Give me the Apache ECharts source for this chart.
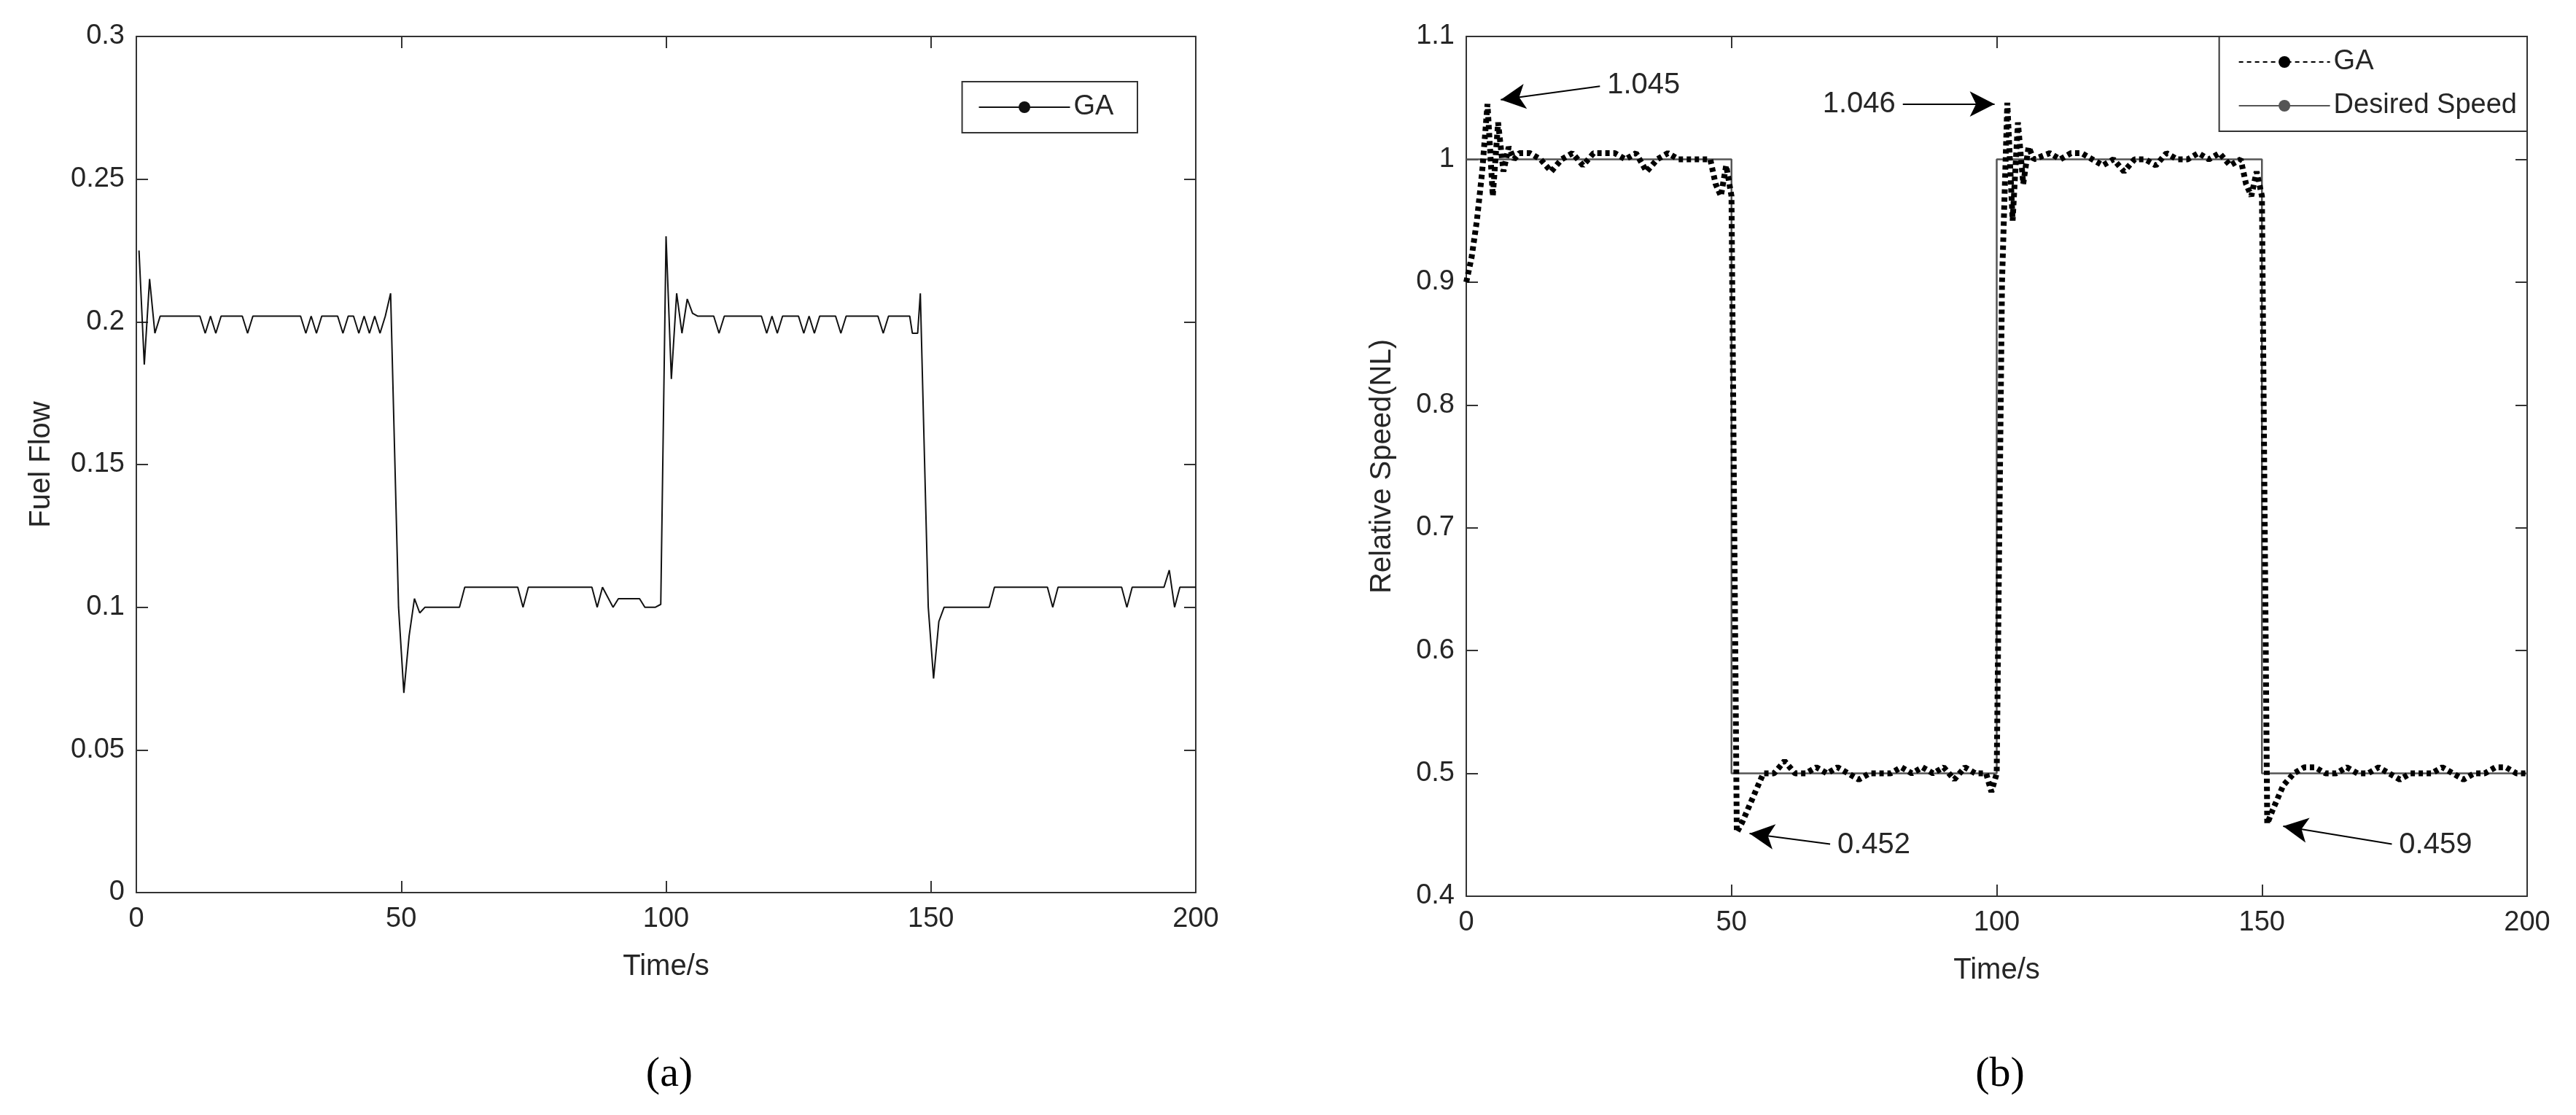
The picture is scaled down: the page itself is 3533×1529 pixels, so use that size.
<!DOCTYPE html>
<html>
<head>
<meta charset="utf-8">
<script src="https://cdn.jsdelivr.net/npm/echarts@6/dist/echarts.min.js"></script>
<style>html,body{margin:0;padding:0;background:#fff}#main{width:3533px;height:1529px}</style>
</head>
<body>
<div id="main"></div>
<script>
// (a) fuel flow, GA
var ffTime = [0.5,1.5,2.5,3.5,4.5,12,13,14,15,16,20,21,22,31,32,33,34,35,38,39,40,41,42,43,44,45,46,47,48,49.5,50.5,51.5,52.5,53.5,54.5,61,62,72,73,74,86,87,88,90,91,95,96,98,99,
  100,101,102,103,104,105,106,109,110,111,118,119,120,121,122,125,126,127,128,129,132,133,134,140,141,142,146,146.5,147.5,148,149.5,150.5,151.5,152.5,161,162,172,173,174,186,187,188,194,195,196,197,200];
var ffValue = [0.225,0.185,0.215,0.196,0.202,0.202,0.196,0.202,0.196,0.202,0.202,0.196,0.202,0.202,0.196,0.202,0.196,0.202,0.202,0.196,0.202,0.202,0.196,0.202,0.196,0.202,0.196,0.202,0.21,0.1,0.07,0.09,0.103,0.098,0.1,0.1,0.107,0.107,0.1,0.107,0.107,0.1,0.107,0.1,0.103,0.103,0.1,0.1,0.101,
  0.23,0.18,0.21,0.196,0.208,0.203,0.202,0.202,0.196,0.202,0.202,0.196,0.202,0.196,0.202,0.202,0.196,0.202,0.196,0.202,0.202,0.196,0.202,0.202,0.196,0.202,0.202,0.196,0.196,0.21,0.1,0.075,0.095,0.1,0.1,0.107,0.107,0.1,0.107,0.107,0.1,0.107,0.107,0.113,0.1,0.107,0.107];

// (b) relative speed
var gaTime = [0,1,2,3,4,5,6,7,8,9,10,12,14,16,18,20,22,24,26,28,30,32,34,36,38,40,42,44,46,47,48,49,50,51,52,53,54,55,56,58,60,62,64,66,68,70,72,74,76,78,80,82,84,86,88,90,92,94,96,98,99,
  100,101,102,103,104,105,106,107,110,112,114,116,118,120,122,124,126,128,130,132,134,136,138,140,142,144,146,147,148,149,150,151,152,153,154,155,156,158,160,162,164,166,168,170,172,174,176,178,180,182,184,186,188,190,192,194,196,198,200];
var gaValue = [0.9,0.92,0.95,0.99,1.045,0.97,1.03,0.99,1.01,1.0,1.005,1.005,1.0,0.99,1.0,1.005,0.995,1.005,1.005,1.005,1.0,1.005,0.99,1.0,1.005,1.0,1.0,1.0,1.0,0.98,0.97,0.995,0.97,0.452,0.46,0.47,0.48,0.49,0.5,0.5,0.51,0.5,0.5,0.505,0.5,0.505,0.5,0.495,0.5,0.5,0.5,0.505,0.5,0.505,0.5,0.505,0.495,0.505,0.5,0.5,0.485,
  0.5,0.9,1.046,0.95,1.03,0.98,1.01,1.0,1.005,1.0,1.005,1.005,1.0,0.995,1.0,0.99,1.0,1.0,0.995,1.005,1.0,1.0,1.005,1.0,1.005,0.995,1.0,0.98,0.97,0.99,0.97,0.459,0.47,0.48,0.49,0.495,0.5,0.505,0.505,0.5,0.5,0.505,0.5,0.5,0.505,0.5,0.495,0.5,0.5,0.5,0.505,0.5,0.495,0.5,0.5,0.505,0.505,0.5,0.5];
var desTime = [0,50,50,100,100,150,150,200];
var desValue = [1,1,0.5,0.5,1,1,0.5,0.5];

function zip(a, b) { return a.map(function (v, i) { return [v, b[i]]; }); }

var font = 'Liberation Sans';
var txt = '#262626';
var axisLine = {show: true, onZero: false, lineStyle: {color: '#333', width: 2}};
var tick = {inside: true, length: 16, lineStyle: {color: '#333', width: 2}};

function xAxes(gi) {
    return [
        {gridIndex: gi, type: 'value', min: 0, max: 200, interval: 50, name: 'Time/s', nameLocation: 'middle', nameGap: 82,
         nameTextStyle: {fontFamily: font, fontSize: 40, color: txt},
         axisLine: axisLine, axisTick: tick,
         axisLabel: {fontFamily: font, fontSize: 38, color: txt, margin: 18}, splitLine: {show: false}},
        {gridIndex: gi, type: 'value', min: 0, max: 200, interval: 50, position: 'top',
         axisLine: axisLine, axisTick: tick, axisLabel: {show: false}, splitLine: {show: false}}
    ];
}
function yAxes(gi, min, max, step, name, gap) {
    return [
        {gridIndex: gi, type: 'value', min: min, max: max, interval: step, name: name, nameLocation: 'middle', nameGap: gap,
         nameTextStyle: {fontFamily: font, fontSize: 40, color: txt},
         axisLine: axisLine, axisTick: tick,
         axisLabel: {fontFamily: font, fontSize: 38, color: txt, margin: 16}, splitLine: {show: false}},
        {gridIndex: gi, type: 'value', min: min, max: max, interval: step, position: 'right',
         axisLine: axisLine, axisTick: tick, axisLabel: {show: false}, splitLine: {show: false}}
    ];
}

function arrow(x1, y1, x2, y2, label) {
    return [{coord: [x1, y1], label: {formatter: label}}, {coord: [x2, y2]}];
}

var chart = echarts.init(document.getElementById('main'));
chart.setOption({
    animation: false,
    backgroundColor: '#fff',
    title: [
        {text: '(a)', left: 913, top: 1440, textAlign: 'center', textStyle: {fontFamily: 'Liberation Serif', fontSize: 58, fontWeight: 'normal', color: '#000'}},
        {text: '(b)', left: 2738, top: 1440, textAlign: 'center', textStyle: {fontFamily: 'Liberation Serif', fontSize: 58, fontWeight: 'normal', color: '#000'}}
    ],
    legend: [
        {data: ['GA '], right: 1973, top: 112, orient: 'vertical', itemWidth: 125, itemHeight: 20, itemGap: 10,
         padding: [16, 22, 16, 22], borderColor: '#333', borderWidth: 2, backgroundColor: '#fff',
         textStyle: {fontFamily: font, fontSize: 38, color: txt}},
        {data: ['GA', 'Desired Speed'], right: 67, top: 50, orient: 'vertical', itemWidth: 125, itemHeight: 20, itemGap: 22,
         padding: [16, 14, 16, 26], borderColor: '#333', borderWidth: 2, backgroundColor: '#fff',
         textStyle: {fontFamily: font, fontSize: 38, color: txt}}
    ],
    grid: [
        {left: 187, right: 1893, top: 50, bottom: 305},
        {left: 2011, right: 67, top: 50, bottom: 300}
    ],
    xAxis: xAxes(0).concat(xAxes(1)),
    yAxis: yAxes(0, 0, 0.3, 0.05, 'Fuel Flow', 110).concat(yAxes(1, 0.4, 1.1, 0.1, 'Relative Speed(NL)', 95)),
    series: [
        {name: 'GA ', type: 'line', xAxisIndex: 0, yAxisIndex: 0, data: zip(ffTime, ffValue), symbol: 'none',
         lineStyle: {color: '#111', width: 2}, itemStyle: {color: '#111'}},
        {name: 'Desired Speed', type: 'line', xAxisIndex: 2, yAxisIndex: 2, data: zip(desTime, desValue), symbol: 'none',
         lineStyle: {color: '#555', width: 2.5}, itemStyle: {color: '#555'}},
        {name: 'GA', type: 'line', xAxisIndex: 2, yAxisIndex: 2, data: zip(gaTime, gaValue), symbol: 'none',
         lineStyle: {color: '#000', width: 8, type: [6, 5]}, itemStyle: {color: '#000'},
         markLine: {
             silent: true, symbol: ['none', 'arrow'], symbolSize: [26, 34],
             lineStyle: {color: '#000', width: 2, type: 'solid'},
             label: {position: 'start', distance: 10, fontFamily: font, fontSize: 40, color: txt},
             data: [
                 arrow(25.2, 1.0595, 6.5, 1.0485, '1.045'),
                 arrow(82.3, 1.045, 99.6, 1.045, '1.046'),
                 arrow(68.6, 0.4425, 53.4, 0.451, '0.452'),
                 arrow(174.5, 0.4425, 154, 0.457, '0.459')
             ]
         }}
    ]
});
</script>
</body>
</html>
